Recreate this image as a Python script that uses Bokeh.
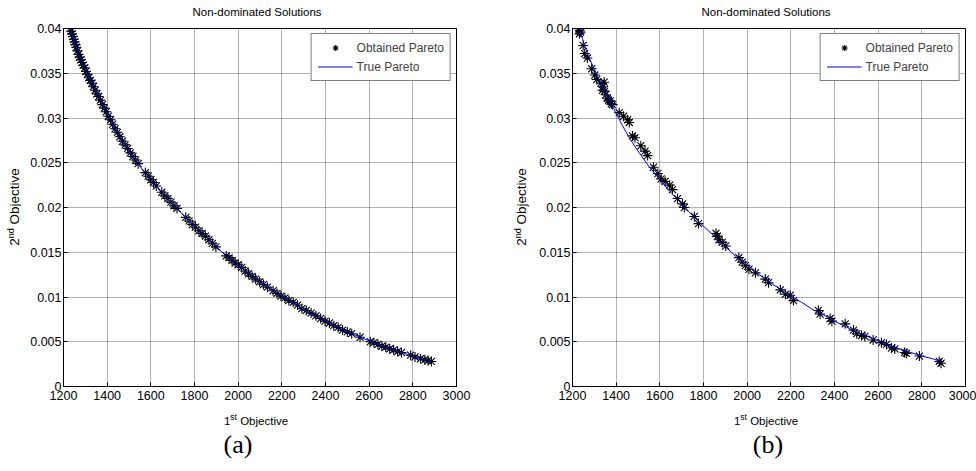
from bokeh.plotting import figure
from bokeh.layouts import row, column
from bokeh.models import Range1d, FixedTicker, Legend, LegendItem, Div
from bokeh.embed import file_html
from bokeh.resources import INLINE

# ---------------- data ----------------
x_ticks = [1200, 1400, 1600, 1800, 2000, 2200, 2400, 2600, 2800, 3000]
x_tick_labels = ["1200", "1400", "1600", "1800", "2000", "2200", "2400", "2600", "2800", "3000"]
y_ticks = [0, 0.005, 0.01, 0.015, 0.02, 0.025, 0.03, 0.035, 0.04]
y_tick_labels = ["0", "0.005", "0.01", "0.015", "0.02", "0.025", "0.03", "0.035", "0.04"]

true_x = [1232, 1245, 1260, 1275, 1293, 1315, 1340, 1370, 1400, 1430, 1460, 1500, 1550, 1600,
          1650, 1700, 1750, 1800, 1850, 1900, 1950, 2000, 2050, 2100, 2150, 2200, 2250, 2300,
          2350, 2400, 2450, 2500, 2550, 2600, 2650, 2700, 2750, 2800, 2850, 2885]
true_y = [0.0400, 0.0389, 0.0378, 0.0368, 0.0358, 0.0346, 0.0334, 0.0320, 0.0305, 0.0291,
          0.0278, 0.0263, 0.0246, 0.0231, 0.0217, 0.0204, 0.0191, 0.0179, 0.0168, 0.0156,
          0.0145, 0.0136, 0.0126, 0.0117, 0.0109, 0.0101, 0.0094, 0.0086, 0.0080, 0.0073,
          0.0067, 0.0061, 0.0056, 0.0051, 0.0046, 0.0042, 0.0038, 0.0034, 0.0031, 0.0028]

a_x = [1232, 1235, 1239, 1243, 1247, 1251, 1255, 1259, 1264, 1269, 1274, 1279, 1285, 1291,
       1297, 1303, 1309, 1316, 1323, 1330, 1337, 1345, 1353, 1361, 1369, 1378, 1387, 1396,
       1405, 1415, 1425, 1436, 1447, 1458, 1470, 1482, 1494, 1506, 1518, 1530, 1542, 1575,
       1588, 1600, 1612, 1625, 1650, 1664, 1678, 1692, 1706, 1720, 1760, 1775, 1790, 1805,
       1820, 1835, 1850, 1866, 1882, 1898, 1945, 1958, 1972, 1986, 2000, 2016, 2032, 2048,
       2064, 2080, 2098, 2116, 2134, 2160, 2178, 2196, 2214, 2232, 2252, 2272, 2292, 2312,
       2334, 2356, 2378, 2398, 2418, 2438, 2458, 2478, 2500, 2520, 2558, 2605, 2622, 2640,
       2658, 2676, 2694, 2712, 2730, 2748, 2790, 2810, 2835, 2855, 2870, 2885]
a_y = [0.0400, 0.0397, 0.0394, 0.0391, 0.0388, 0.0385, 0.0382, 0.0379, 0.0375, 0.0371,
       0.0368, 0.0365, 0.0362, 0.0359, 0.0356, 0.0352, 0.0349, 0.0345, 0.0342, 0.0339,
       0.0335, 0.0331, 0.0327, 0.0324, 0.0320, 0.0315, 0.0311, 0.0307, 0.0302, 0.0298,
       0.0293, 0.0288, 0.0284, 0.0279, 0.0274, 0.0270, 0.0266, 0.0261, 0.0257, 0.0253,
       0.0249, 0.0239, 0.0235, 0.0231, 0.0228, 0.0224, 0.0217, 0.0213, 0.0210, 0.0206,
       0.0202, 0.0199, 0.0189, 0.0185, 0.0181, 0.0178, 0.0174, 0.0171, 0.0168, 0.0164,
       0.0160, 0.0156, 0.0146, 0.0144, 0.0141, 0.0138, 0.0136, 0.0133, 0.0129, 0.0126,
       0.0123, 0.0120, 0.0117, 0.0114, 0.0111, 0.0107, 0.0104, 0.0101, 0.0099, 0.0096,
       0.0094, 0.0091, 0.0087, 0.0085, 0.0082, 0.0079, 0.0076, 0.0073, 0.0071, 0.0068,
       0.0066, 0.0063, 0.0061, 0.0059, 0.0055, 0.0050, 0.0049, 0.0047, 0.0045, 0.0044,
       0.0042, 0.0041, 0.0039, 0.0038, 0.0035, 0.0033, 0.0031, 0.0030, 0.0029, 0.0028]

b_x = [1230, 1233, 1236, 1232, 1249, 1256, 1268, 1288, 1302, 1311, 1330, 1345, 1337, 1340,
       1347, 1352, 1360, 1365, 1372, 1378, 1383, 1414, 1434, 1452, 1460, 1475, 1486, 1513,
       1532, 1544, 1571, 1591, 1606, 1624, 1645, 1658, 1681, 1704, 1712, 1758, 1777, 1857,
       1864, 1871, 1886, 1902, 1962, 1977, 1992, 2008, 2038, 2083, 2098, 2152, 2175, 2197,
       2212, 2326, 2334, 2380, 2388, 2449, 2487, 2502, 2524, 2539, 2577, 2615, 2638, 2661,
       2676, 2721, 2729, 2789, 2880, 2888]
b_y = [0.0400, 0.0398, 0.0396, 0.0394, 0.0381, 0.0372, 0.0367, 0.0355, 0.0348, 0.0343,
       0.0339, 0.0340, 0.0331, 0.0335, 0.0330, 0.0326, 0.0322, 0.0320, 0.0319, 0.0316,
       0.0315, 0.0306, 0.0302, 0.0298, 0.0295, 0.0280, 0.0278, 0.0269, 0.0263, 0.0258,
       0.0245, 0.0238, 0.0232, 0.0229, 0.0225, 0.0220, 0.0210, 0.0204, 0.0200, 0.0190,
       0.0182, 0.0171, 0.0168, 0.0164, 0.0161, 0.0157, 0.0144, 0.0139, 0.0135, 0.0131,
       0.0127, 0.0120, 0.0116, 0.0108, 0.0103, 0.0102, 0.0096, 0.0085, 0.0081, 0.0076,
       0.0073, 0.0070, 0.0063, 0.0059, 0.0057, 0.0056, 0.0052, 0.0049, 0.0047, 0.0043,
       0.0042, 0.0038, 0.0037, 0.0034, 0.0028, 0.0026]

title_text = "Non-dominated Solutions"
SANS = "'Liberation Sans', Arial, sans-serif"
SERIF = "'Liberation Serif', 'Times New Roman', serif"

TITLE_H = 18
BORDER_TOP = 10
FIG_H = BORDER_TOP + 358 + 22
YLAB_W = 20


def box(width, height, cx, cy, inner, font, size, rotate=False):
    tr = "translate(-50%,-50%)" + (" rotate(-90deg)" if rotate else "")
    html = (f'<div style="position:relative;width:{width}px;height:{height}px;">'
            f'<div style="position:absolute;left:{cx}px;top:{cy}px;transform:{tr};'
            f'white-space:nowrap;font-family:{font};font-size:{size};line-height:1.2;'
            f'color:black;">{inner}</div></div>')
    return Div(text=html, width=width, height=height, margin=0,
               styles={"overflow": "visible"})


def sup(t, size):
    return (f'<span style="font-size:{size};position:relative;top:-5px;'
            f'line-height:0;">{t}</span>')


def make(ox, oy, caption, col_w, bl, br, title_cx, xlab_cx, cap_cx, ylab_cx):
    fig_w = col_w - YLAB_W
    p = figure(width=fig_w, height=FIG_H, output_backend="svg", toolbar_location=None,
               x_range=Range1d(1200, 3000), y_range=Range1d(0, 0.04),
               min_border_left=bl, min_border_right=br, min_border_top=BORDER_TOP,
               min_border_bottom=22)
    p.background_fill_color = "white"
    p.border_fill_color = "white"
    p.outline_line_color = "black"
    p.outline_line_width = 1

    p.xaxis.ticker = FixedTicker(ticks=x_ticks)
    p.yaxis.ticker = FixedTicker(ticks=y_ticks)
    p.xaxis.major_label_overrides = dict(zip(x_ticks, x_tick_labels))
    p.yaxis.major_label_overrides = dict(zip(y_ticks, y_tick_labels))
    for ax in (p.xaxis[0], p.yaxis[0]):
        ax.axis_line_color = "black"
        ax.major_tick_line_color = "black"
        ax.major_tick_in = 4
        ax.major_tick_out = 0
        ax.minor_tick_line_color = None
        ax.major_label_text_font = "Liberation Sans"
        ax.major_label_text_font_size = "12.5px"
        ax.major_label_text_color = "black"
    p.xaxis.major_label_standoff = 4
    p.yaxis.major_label_standoff = 2

    p.xgrid.ticker = FixedTicker(ticks=x_ticks)
    p.ygrid.ticker = FixedTicker(ticks=y_ticks)
    for g in (p.xgrid[0], p.ygrid[0]):
        g.grid_line_color = "#222222"
        g.grid_line_alpha = 0.7
        g.grid_line_dash = "1 1"

    r_pts = p.scatter(ox, oy, marker="asterisk", size=10, line_color="black", line_width=1.1)
    r_line = p.line(true_x, true_y, line_color="#0000ff", line_width=1)

    legend = Legend(items=[LegendItem(label="Obtained Pareto", renderers=[r_pts]),
                           LegendItem(label="True Pareto", renderers=[r_line])],
                    location="top_right", margin=5, padding=6, spacing=4,
                    glyph_width=35, glyph_height=15, label_height=15, label_standoff=4,
                    label_text_font="Liberation Sans", label_text_font_size="12px",
                    border_line_color="black", border_line_width=1,
                    background_fill_color="white", background_fill_alpha=1)
    p.add_layout(legend)

    title_div = box(col_w, TITLE_H, title_cx, 13, title_text, SANS, "11.5px")
    ylab_div = box(YLAB_W, FIG_H, ylab_cx, 207 - TITLE_H,
                   "2" + sup("nd", "9px") + " Objective", SANS, "13.5px", rotate=True)
    xlab_div = box(col_w, 24, xlab_cx, 14,
                   "1" + sup("st", "8.5px") + " Objective", SANS, "11.5px")
    cap_div = box(col_w, 38, cap_cx, 13, caption, SERIF, "26px")

    return column(title_div, row(ylab_div, p, spacing=0), xlab_div, cap_div, spacing=0)


col_a = make(a_x, a_y, "(a)", 508, 43, 52, 257, 256, 238, 15)
col_b = make(b_x, b_y, "(b)", 468, 44, 11, 258, 258, 260, 14)
layout = row(col_a, col_b, spacing=0)

open("out.html", "w").write(file_html(layout, INLINE))
